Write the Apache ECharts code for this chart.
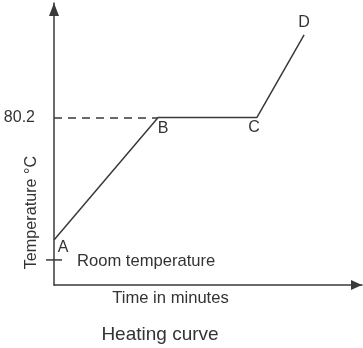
<!DOCTYPE html>
<html>
<head>
<meta charset="utf-8">
<script src="https://cdn.jsdelivr.net/npm/echarts@6/dist/echarts.min.js"></script>
<style>html,body{margin:0;padding:0;background:#fff}#c{width:363px;height:348px}</style>
</head>
<body>
<div id="c"></div>
<script>
// Data (schematic heating curve)
var pointNames = ['A', 'B', 'C', 'D'];
var timeValues = [0, 33.8, 65.9, 81.2];
var tempValues = [21.5, 80.2, 80.2, 119.7];
var meltingPoint = 80.2;
var roomTemperature = 12;
var xMax = 100, yMax = 135;
var labelOffsets = [[9, 7.5], [5, 11], [-3, 10], [0, -12.5]];

var FONT = 'Liberation Sans, Arial, sans-serif';
var TXT = '#333';
var LINE = '#3a3a3a';

var chart = echarts.init(document.getElementById('c'), null, {renderer: 'canvas'});
var lineData = pointNames.map(function (n, i) {
  return {
    value: [timeValues[i], tempValues[i]],
    name: n,
    label: {show: true, position: 'inside', offset: labelOffsets[i], formatter: n,
      fontSize: 16, fontFamily: FONT, color: TXT}
  };
});
chart.setOption({
  animation: false,
  grid: {left: 54, right: 1, top: 3, bottom: 63, containLabel: false},
  xAxis: {
    type: 'value', min: 0, max: xMax,
    axisLine: {show: true, lineStyle: {color: LINE, width: 1.5}, symbol: ['none', 'triangle'], symbolSize: [10, 11], symbolOffset: [0, -5.5]},
    axisTick: {show: false}, axisLabel: {show: false}, splitLine: {show: false}
  },
  yAxis: {
    type: 'value', min: 0, max: yMax,
    axisLine: {show: true, lineStyle: {color: LINE, width: 1.5}, symbol: ['none', 'triangle'], symbolSize: [10, 13], symbolOffset: [0, -6.5]},
    axisTick: {show: false}, axisLabel: {show: false}, splitLine: {show: false}
  },
  series: [
    {
      type: 'line',
      data: lineData,
      symbol: 'circle', symbolSize: 0, showSymbol: true,
      lineStyle: {color: LINE, width: 1.5},
      itemStyle: {color: LINE},
      markLine: {
        silent: true, symbol: ['none', 'none'],
        lineStyle: {color: LINE, width: 1.5, type: [8, 6]},
        label: {show: true, position: 'start', formatter: String(meltingPoint), distance: 19,
          fontSize: 16, fontFamily: FONT, color: TXT},
        data: [[{coord: [0, meltingPoint]}, {coord: [timeValues[1], meltingPoint]}]]
      },
      z: 3
    },
    {
      type: 'scatter',
      data: [[0, roomTemperature]],
      symbol: 'rect', symbolSize: [16, 1.5],
      itemStyle: {color: LINE, opacity: 1},
      label: {show: true, position: 'right', distance: 15, offset: [0, 1], formatter: 'Room temperature',
        fontSize: 16.6, fontFamily: FONT, color: TXT, opacity: 1},
      z: 4
    }
  ],
  graphic: [
    {type: 'text', x: 170.5, y: 298.5, style: {text: 'Time in minutes', font: '16.6px ' + FONT, fill: TXT, align: 'center', verticalAlign: 'middle'}},
    {type: 'text', x: 160, y: 335, style: {text: 'Heating curve', font: '19px ' + FONT, fill: TXT, align: 'center', verticalAlign: 'middle'}},
    {type: 'text', x: 31.5, y: 212.5, rotation: Math.PI / 2, style: {text: 'Temperature °C', font: '16.2px ' + FONT, fill: TXT, align: 'center', verticalAlign: 'middle'}}
  ]
});
</script>
</body>
</html>
